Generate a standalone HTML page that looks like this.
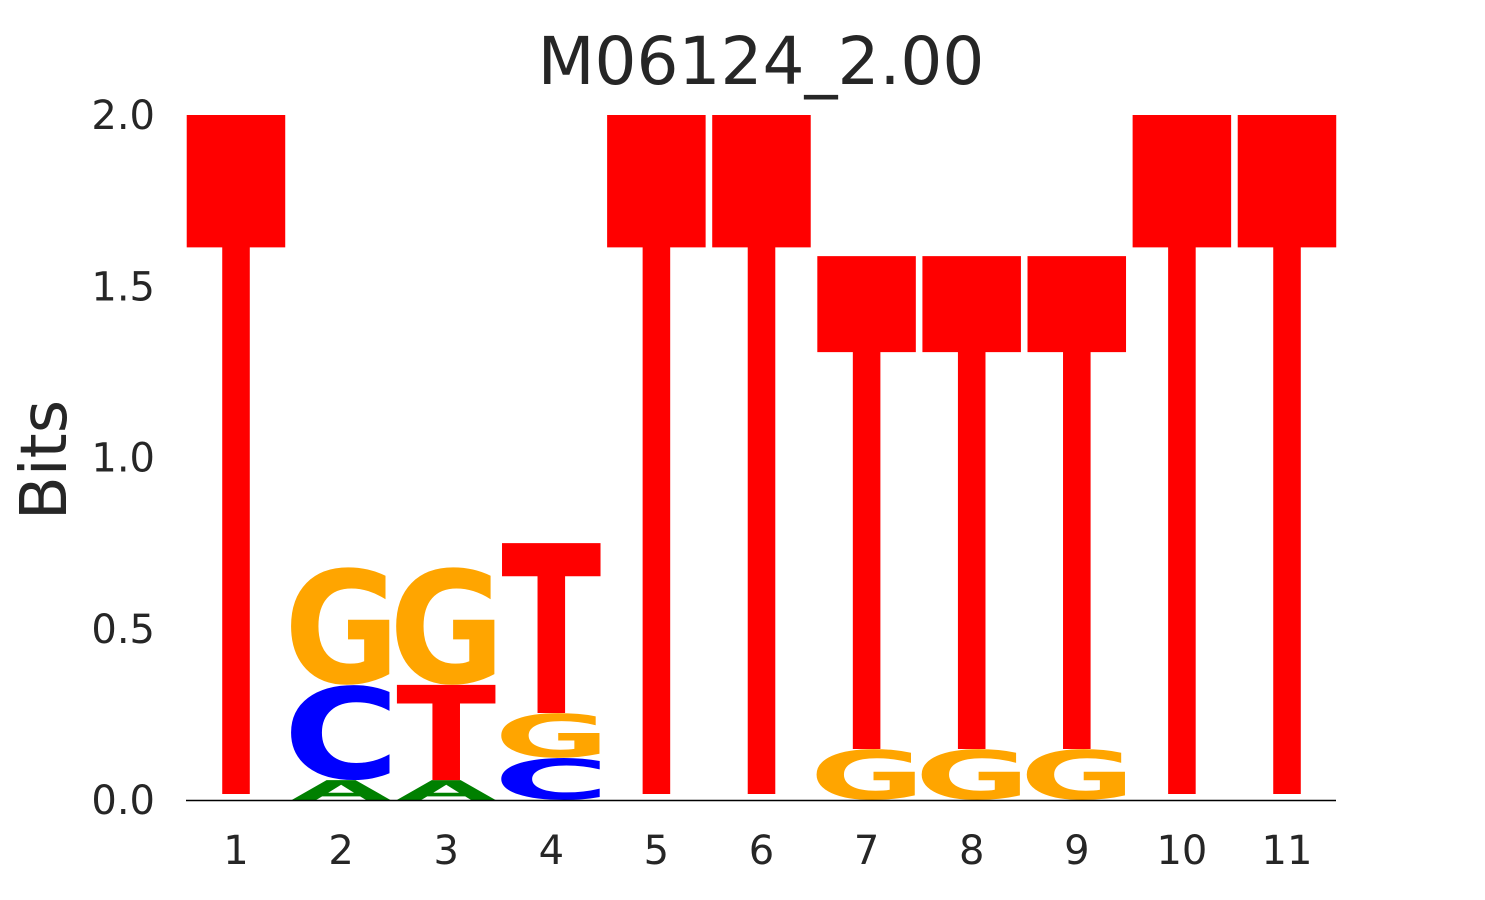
<!DOCTYPE html>
<html><head><meta charset="utf-8"><style>
html,body{margin:0;padding:0;background:#fff;overflow:hidden;width:1485px;height:900px;}
svg{display:block;font-family:"DejaVu Sans","Liberation Sans",sans-serif;}
</style></head><body>
<svg id="chart" width="1485" height="900" viewBox="0 0 1485 900" xmlns="http://www.w3.org/2000/svg">
<text x="761" y="84" font-size="66" text-anchor="middle" fill="#262626">M06124_2.00</text>
<text transform="translate(66,460) rotate(-90)" font-size="64" text-anchor="middle" fill="#262626">Bits</text>
<g id="yticks"></g>
<g id="xticks"></g>
<g id="letters"></g>
<line x1="186" y1="800.5" x2="1336" y2="800.5" stroke="#000" stroke-width="1.5"/>
</svg>
<script>
const positions = ["1","2","3","4","5","6","7","8","9","10","11"];
const yTicks = [0, 0.5, 1.0, 1.5, 2.0];
// stacked letters per position: [letter, bottom bits, top bits]
const col1 = [["T",0,2.0]];
const col2 = [["A",0,0.058],["C",0.058,0.336],["G",0.336,0.68]];
const col3 = [["A",0,0.058],["T",0.058,0.336],["G",0.336,0.68]];
const col4 = [["C",0,0.123],["G",0.123,0.254],["T",0.254,0.75]];
const col5 = [["T",0,2.0]];
const col6 = [["T",0,2.0]];
const col7 = [["G",0,0.149],["T",0.149,1.588]];
const col8 = [["G",0,0.149],["T",0.149,1.588]];
const col9 = [["G",0,0.149],["T",0.149,1.588]];
const col10 = [["T",0,2.0]];
const col11 = [["T",0,2.0]];
const columns = [col1,col2,col3,col4,col5,col6,col7,col8,col9,col10,col11];

const NS="http://www.w3.org/2000/svg";
const yScale = b => 800 - b*342.5;
const xCenter = i => 236 + i*105.1;
const colors = {A:"#008000",C:"#0000ff",G:"#ffa500",T:"#ff0000"};
// ink metrics in em: [x0, x1, bottom, top]
const metrics = {A:[0.0,0.774,0,0.729],C:[0.05,0.68,-0.015,0.744],G:[0.05,0.76,-0.015,0.744],T:[0.0,0.682,0,0.729]};

const yt=document.getElementById('yticks');
yTicks.forEach(v=>{
  const t=document.createElementNS(NS,'text');
  
  
  t.setAttribute('x',155);t.setAttribute('y',yScale(v)+14);
  t.setAttribute('font-size','40');t.setAttribute('text-anchor','end');t.setAttribute('fill','#262626');
  t.textContent=v.toFixed(1);yt.appendChild(t);
});
const xt=document.getElementById('xticks');
positions.forEach((p,i)=>{
  const t=document.createElementNS(NS,'text');
  
  
  t.setAttribute('x',xCenter(i));t.setAttribute('y',864);
  t.setAttribute('font-size','40');t.setAttribute('text-anchor','middle');t.setAttribute('fill','#262626');
  t.textContent=p;xt.appendChild(t);
});
const lg=document.getElementById('letters');
columns.forEach((col,i)=>{
  col.forEach(([L,b0,b1])=>{
    const m=metrics[L];
    const fs=100;
    const w=100, left=xCenter(i)-w/2;
    let yb=yScale(b0);
    const ytop=yScale(b1);
    if(L==="T" && b0===0) yb-=6;
    const h=yb-ytop;
    const sx=w/((m[1]-m[0])*fs);
    const sy=h/((m[3]-m[2])*fs);
    const t=document.createElementNS(NS,'text');
    
    
    t.setAttribute('font-size',fs);
    t.setAttribute('font-weight','bold');
    t.setAttribute('fill',colors[L]);
    t.setAttribute('transform',`translate(${left - m[0]*fs*sx},${yb + m[2]*fs*sy}) scale(${sx},${sy})`);
    t.textContent=L;
    lg.appendChild(t);
  });
});
</script>
</body></html>
